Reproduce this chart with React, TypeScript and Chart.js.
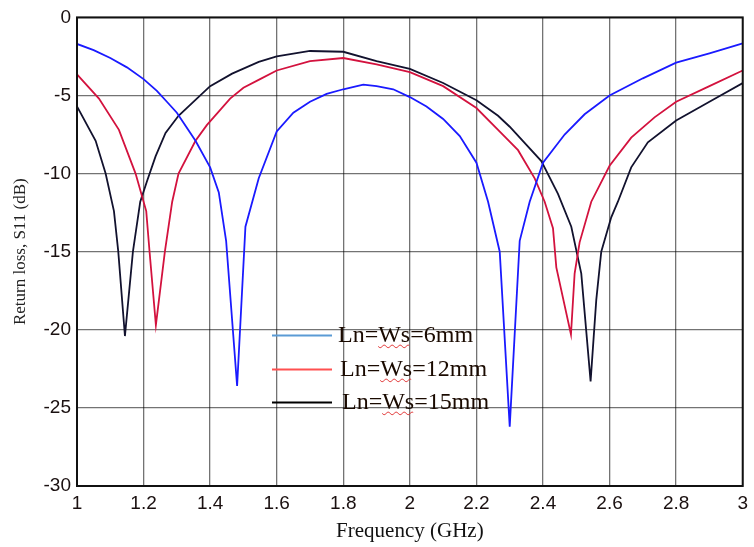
import { useEffect, useRef } from "react";
import { Chart, registerables } from "chart.js";

Chart.register(...registerables);

// Ln = Ws = 6 mm
const freq6 = [1.0, 1.05, 1.1, 1.15, 1.2, 1.24, 1.27, 1.3, 1.356, 1.4, 1.426, 1.448, 1.481, 1.506, 1.546, 1.6, 1.65, 1.7, 1.75, 1.8, 1.86, 1.9, 1.95, 2.0, 2.05, 2.1, 2.15, 2.2, 2.235, 2.27, 2.3, 2.33, 2.36, 2.4, 2.465, 2.525, 2.6, 2.7, 2.8, 2.9, 3.0];
const s11_6 = [-1.7, -2.1, -2.6, -3.2, -3.95, -4.7, -5.4, -6.1, -7.9, -9.6, -11.2, -14.3, -23.6, -13.4, -10.3, -7.3, -6.1, -5.4, -4.9, -4.6, -4.3, -4.4, -4.6, -5.1, -5.7, -6.5, -7.6, -9.3, -11.8, -15.0, -26.2, -14.3, -11.8, -9.3, -7.5, -6.2, -5.0, -3.9, -2.9, -2.3, -1.67];

// Ln = Ws = 12 mm
const freq12 = [1.0, 1.066, 1.126, 1.176, 1.208, 1.218, 1.237, 1.264, 1.286, 1.305, 1.356, 1.39, 1.46, 1.5, 1.55, 1.6, 1.7, 1.8, 1.9, 2.0, 2.1, 2.2, 2.265, 2.325, 2.375, 2.405, 2.43, 2.44, 2.484, 2.495, 2.51, 2.545, 2.6, 2.665, 2.735, 2.8, 2.9, 3.0];
const s11_12 = [-3.65, -5.2, -7.2, -10.0, -12.4, -15.0, -19.7, -15.0, -11.8, -10.0, -7.9, -6.9, -5.2, -4.5, -3.95, -3.4, -2.8, -2.6, -3.0, -3.5, -4.4, -5.8, -7.2, -8.5, -10.3, -11.8, -13.5, -16.0, -20.3, -16.4, -14.4, -11.8, -9.5, -7.7, -6.4, -5.4, -4.4, -3.4];

// Ln = Ws = 15 mm
const freq15 = [1.0, 1.056, 1.086, 1.111, 1.124, 1.144, 1.168, 1.19, 1.21, 1.236, 1.266, 1.305, 1.36, 1.4, 1.466, 1.546, 1.6, 1.7, 1.8, 1.9, 2.0, 2.1, 2.2, 2.265, 2.3, 2.395, 2.445, 2.485, 2.515, 2.543, 2.56, 2.575, 2.605, 2.625, 2.665, 2.715, 2.8, 2.9, 3.0];
const s11_15 = [-5.7, -7.9, -10.0, -12.4, -15.0, -20.4, -15.0, -11.8, -10.5, -8.9, -7.4, -6.3, -5.2, -4.4, -3.6, -2.85, -2.5, -2.15, -2.2, -2.8, -3.3, -4.2, -5.3, -6.3, -7.0, -9.2, -11.3, -13.4, -16.4, -23.3, -18.1, -15.0, -12.8, -11.8, -9.6, -8.0, -6.6, -5.4, -4.2];

const seriesLabels = ["Ln=Ws=6mm", "Ln=Ws=12mm", "Ln=Ws=15mm"];
const seriesColors = ["#1a1aff", "#d3123e", "#12122e"];
const legendColors = ["#5b9bd5", "#ff5050", "#000000"];

const SERIF = "'Liberation Serif', 'Times New Roman', serif";
const SANS = "'Liberation Sans Narrow', 'Arial Narrow', 'Liberation Sans', Arial, sans-serif";

const toPoints = (xs: number[], ys: number[]) => xs.map((x, i) => ({ x, y: ys[i] }));

// Closed black frame around the plotting area
const framePlugin = {
  id: "frame",
  afterDatasetsDraw(chart: any) {
    const { ctx, chartArea: a } = chart;
    ctx.save();
    ctx.strokeStyle = "#111";
    ctx.lineWidth = 2;
    ctx.strokeRect(a.left, a.top, a.right - a.left, a.bottom - a.top);
    ctx.restore();
  },
};

// Legend drawn inside the plot, with the spell-check squiggle under "Ws"
const legendPlugin = {
  id: "insideLegend",
  afterDraw(chart: any) {
    const { ctx, chartArea: a } = chart;
    const rows = [318, 352, 385];
    ctx.save();
    ctx.font = `24px ${SERIF}`;
    ctx.textBaseline = "alphabetic";
    seriesLabels.forEach((label, i) => {
      const y = a.top + rows[i];
      ctx.strokeStyle = legendColors[i];
      ctx.lineWidth = 2;
      ctx.beginPath();
      ctx.moveTo(a.left + 195, y);
      ctx.lineTo(a.left + 255, y);
      ctx.stroke();
      const tx = a.left + 261 + i * 2;
      const ty = y + 7;
      ctx.fillStyle = "#1a0a00";
      ctx.fillText(label, tx, ty);
      const x0 = tx + ctx.measureText("Ln=").width;
      const w = ctx.measureText("Ws").width;
      ctx.strokeStyle = "#e03030";
      ctx.lineWidth = 1;
      ctx.beginPath();
      for (let k = 0; k <= w; k += 1) {
        const yy = ty + 4 + Math.sin((k / 4) * Math.PI) * 1.3;
        if (k === 0) ctx.moveTo(x0 + k, yy);
        else ctx.lineTo(x0 + k, yy);
      }
      ctx.stroke();
    });
    ctx.restore();
  },
};

export default function App() {
  const canvasRef = useRef<HTMLCanvasElement | null>(null);

  useEffect(() => {
    const canvas = canvasRef.current;
    if (!canvas) return;
    const series = [toPoints(freq6, s11_6), toPoints(freq12, s11_12), toPoints(freq15, s11_15)];
    const chart = new Chart(canvas, {
      type: "line",
      data: {
        datasets: series.map((data, i) => ({
          label: seriesLabels[i],
          data,
          borderColor: seriesColors[i],
          backgroundColor: seriesColors[i],
          borderWidth: 1.8,
          pointRadius: 0,
          tension: 0,
          fill: false,
        })),
      },
      options: {
        animation: false,
        responsive: false,
        devicePixelRatio: 1,
        layout: { padding: { top: 15, right: 8, left: 0, bottom: 0 } },
        plugins: { legend: { display: false }, tooltip: { enabled: false } },
        scales: {
          x: {
            type: "linear",
            min: 1,
            max: 3,
            afterFit: (s: any) => {
              s.height = 61;
            },
            ticks: {
              stepSize: 0.2,
              color: "#1a1010",
              padding: 6,
              maxRotation: 0,
              font: { family: SANS, size: 19 },
              callback: (v: any) => String(Math.round(Number(v) * 10) / 10),
            },
            grid: { color: "rgba(0,0,0,0.55)", lineWidth: 1.3, drawTicks: false },
            border: { display: false },
            title: {
              display: true,
              text: "Frequency (GHz)",
              color: "#111",
              font: { family: SERIF, size: 21 },
              padding: { top: 0, bottom: 3 },
            },
          },
          y: {
            min: -30,
            max: 0,
            afterFit: (s: any) => {
              s.width = 77;
            },
            ticks: {
              stepSize: 5,
              color: "#1a1010",
              padding: 6,
              font: { family: SANS, size: 19 },
            },
            grid: { color: "rgba(0,0,0,0.55)", lineWidth: 1.3, drawTicks: false },
            border: { display: false },
            title: {
              display: true,
              text: "Return loss, S11 (dB)",
              color: "#222",
              font: { family: SERIF, size: 17 },
              padding: { top: 10, bottom: 0 },
            },
          },
        },
      },
      plugins: [framePlugin, legendPlugin],
    });
    return () => chart.destroy();
  }, []);

  return (
    <div style={{ position: "absolute", left: 0, top: 0, width: 754, height: 547, background: "#fff" }}>
      <canvas ref={canvasRef} width={754} height={547} />
    </div>
  );
}
